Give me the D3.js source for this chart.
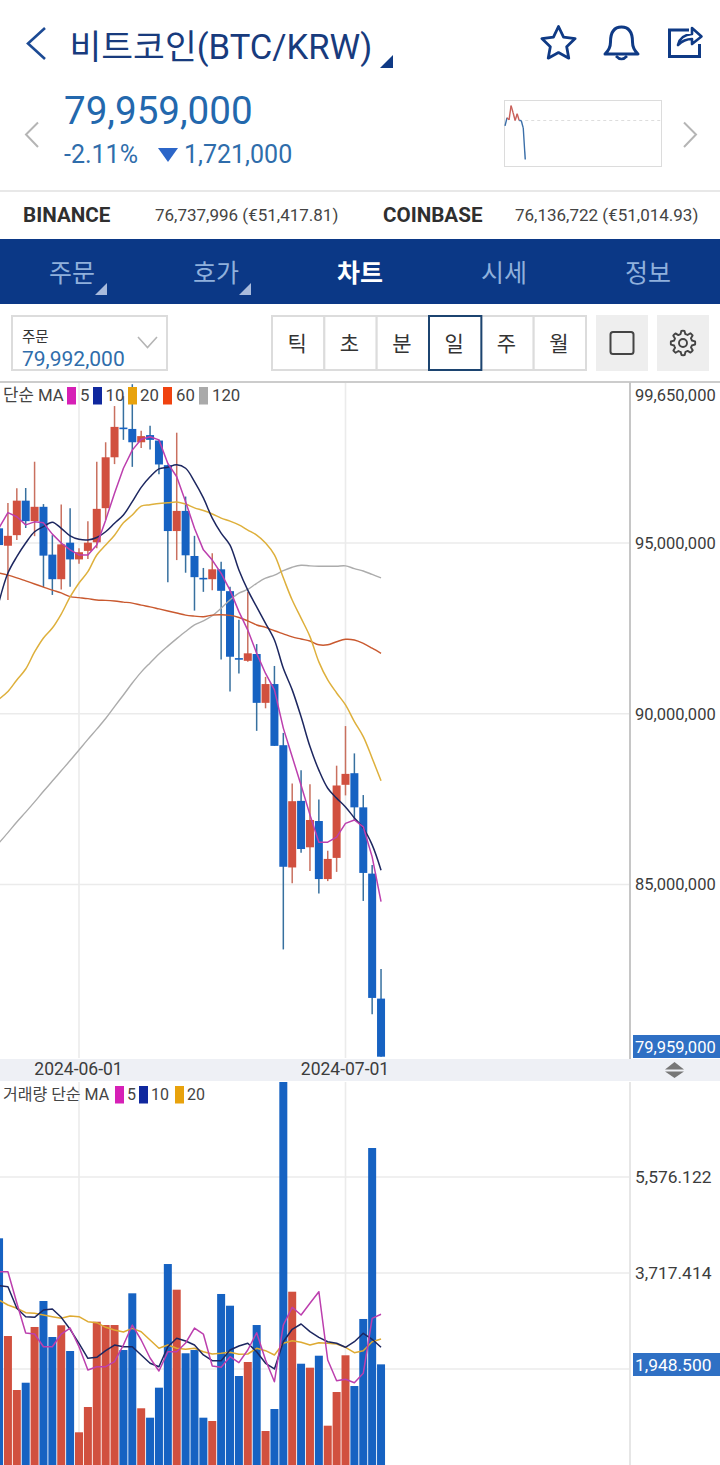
<!DOCTYPE html>
<html>
<head>
<meta charset="utf-8">
<script src="https://cdn.jsdelivr.net/npm/d3@7"></script>
<style>
  html, body { margin: 0; padding: 0; background: #fff; }
  svg { display: block; }
  text { font-family: Roboto, "Noto Sans CJK KR", sans-serif; }
</style>
</head>
<body>
<div id="chart"></div>
<script>
// daily candles, 2024-05-23 .. 2024-07-05, prices in million KRW
const opens = [95.43,94.92,95.23,96.24,95.64,96.06,94.66,93.94,95.01,94.52,94.77,95.02,96.02,97.51,98.38,98.34,97.95,98.16,98.00,97.28,95.35,95.94,94.62,93.98,93.94,94.23,93.59,91.63,91.55,91.75,90.32,90.87,89.08,85.50,87.45,86.09,86.86,85.16,85.78,87.92,88.26,87.26,85.32,81.66];
const closes = [94.94,95.21,96.24,95.64,96.06,94.63,93.94,94.96,94.52,94.73,95.01,96.00,97.51,98.40,98.36,97.95,98.13,98.02,97.30,95.35,95.94,94.64,94.00,93.96,94.23,93.60,91.67,91.61,91.77,90.32,90.87,89.06,85.52,87.44,86.04,86.89,85.16,85.75,87.90,88.24,87.26,85.34,81.68,79.959];
const highs = [95.97,96.17,96.60,96.61,97.38,96.14,95.23,96.13,96.02,94.85,95.64,97.38,97.95,99.01,99.30,99.65,98.29,98.43,98.02,97.30,98.23,96.36,95.21,94.27,94.70,94.45,93.72,92.75,93.57,92.04,91.08,91.40,89.44,87.96,88.35,87.94,87.49,85.99,88.48,89.64,88.84,87.62,85.57,82.53];
const lows = [94.50,93.33,95.09,95.44,95.20,93.71,93.48,93.64,93.72,94.39,94.53,94.85,95.67,97.31,98.02,97.23,97.78,97.74,97.01,93.85,94.50,94.13,93.02,93.57,93.62,91.59,90.65,91.18,91.52,89.50,90.16,89.06,83.10,85.04,85.93,85.40,84.74,85.10,85.37,87.61,86.89,84.52,81.20,79.959];

const ma5 = [95.44,95.89,95.77,95.53,95.62,95.59,95.26,95.00,94.80,94.65,94.65,94.94,95.67,96.46,97.19,97.72,98.04,98.11,98.02,97.33,96.94,96.21,95.43,94.80,94.50,94.11,93.62,92.99,92.45,91.77,91.18,90.70,89.58,88.74,87.91,87.04,86.24,86.24,86.39,86.79,86.89,86.69,85.81,84.50];
const ma10 = [93.28,94.12,94.60,95.00,95.33,95.48,95.61,95.43,95.21,95.11,95.09,95.16,95.33,95.58,95.82,96.21,96.63,96.94,97.17,97.22,97.29,97.19,96.80,96.32,95.73,95.29,94.94,94.21,93.62,93.13,92.65,92.16,91.33,90.70,89.91,89.04,88.35,87.82,87.53,87.27,86.95,86.65,86.16,85.42];
const ma20 = [90.43,90.65,90.99,91.31,91.81,92.22,92.51,92.92,93.42,93.83,94.16,94.65,94.94,95.23,95.59,95.82,96.08,96.12,96.16,96.18,96.20,96.14,96.03,95.95,95.85,95.73,95.64,95.53,95.38,95.23,95.00,94.65,93.98,93.33,92.80,92.26,91.52,90.99,90.61,90.26,89.77,89.33,88.70,88.04];
const ma60 = [94.12,94.06,93.98,93.89,93.80,93.71,93.62,93.54,93.43,93.40,93.37,93.33,93.32,93.30,93.27,93.24,93.18,93.13,93.07,93.01,92.95,92.89,92.86,92.84,92.89,92.90,92.88,92.82,92.72,92.60,92.53,92.43,92.34,92.25,92.19,92.13,92.02,92.02,92.11,92.18,92.16,92.06,91.92,91.77];
const ma120 = [86.22,86.52,86.83,87.12,87.42,87.73,88.03,88.33,88.63,88.94,89.25,89.55,89.86,90.21,90.55,90.90,91.22,91.49,91.75,91.98,92.20,92.41,92.60,92.72,92.87,93.09,93.33,93.53,93.64,93.82,93.97,94.06,94.19,94.29,94.35,94.33,94.32,94.32,94.32,94.33,94.25,94.18,94.08,93.98];

const volumes = [4389,2497,1452,1593,2672,3175,2478,2705,2207,633,1123,2774,2710,2710,2226,3324,1098,916,1497,3891,3394,2163,2226,916,852,3311,3084,1723,1994,2710,658,1084,7800,3355,1961,1884,2116,761,1413,2124,1529,2827,6137,1948.5];
const volMa5 = [3742,3742,3136,2556,2536,2290,2290,2536,2652,2290,1839,1903,1903,2000,2323,2710,2420,2072,1820,2193,2193,2362,2652,2536,1917,1891,2097,1981,2226,2561,2033,1613,2710,3053,2904,3131,3355,2033,1632,1659,1593,1775,2840,2918];
const volMa10 = [3471,3452,3034,2871,2859,3001,3020,2859,2627,2356,2066,2085,2213,2323,2290,2290,2130,1969,1903,2290,2453,2401,2323,2130,2019,2019,2226,2304,2356,2193,1969,1859,2387,2627,2730,2581,2472,2387,2356,2279,2387,2550,2434,2279];
const volMa20 = [3194,3098,3034,2949,2937,2904,2871,2840,2885,2871,2774,2755,2666,2614,2575,2646,2581,2420,2259,2323,2259,2240,2259,2193,2149,2163,2182,2143,2149,2259,2213,2130,2356,2406,2375,2323,2368,2356,2343,2279,2174,2213,2387,2439];

const priceTicks = [99.65, 95, 90, 85];
const volumeTicks = [5576.122, 3717.414];
const volumeGrid = [5576.122, 3717.414, 1858.707];
const dateTicks = ["2024-06-01", "2024-07-01"];
const lastPrice = 79.959;
const lastVolume = 1948.5;

// little sparkline in the header, change against the previous close
const miniChange = [-5.3,2.7,0.7,14.7,7.7,0,6.7,0,0,-7.3,-38.6];

const tabs = ["주문", "호가", "차트", "시세", "정보"];
const periods = ["틱", "초", "분", "일", "주", "월"];

const BLUE = "#1662c2", RED = "#d1503f", NAVY = "#0f3a85";

const dates = d3.utcDay.range(new Date(Date.UTC(2024, 4, 23)), new Date(Date.UTC(2024, 6, 6)));
const candles = dates.map((d, i) => ({date: d, open: opens[i], close: closes[i], high: highs[i], low: lows[i], volume: volumes[i]}));

const svg = d3.select("#chart").append("svg").attr("width", 720).attr("height", 1465).attr("viewBox", "0 0 720 1465");

function label(x, y, str, size, color, opts) {
  opts = opts || {};
  return svg.append("text").attr("x", x).attr("y", y).text(str)
    .attr("font-size", size).attr("fill", color)
    .attr("font-weight", opts.weight || 400)
    .attr("text-anchor", opts.anchor || "start");
}

// ---- header
svg.append("path").attr("d", "M45 28 L28 43.5 L45 59").attr("fill", "none").attr("stroke", "#1c4a94").attr("stroke-width", 2.6);
label(69.5, 59, "비트코인(BTC/KRW)", 34.6, "#183b7d");
svg.append("path").attr("d", "M380 68 H393 V55 Z").attr("fill", NAVY);

const star = d3.range(10).map(i => [i * Math.PI / 5, i % 2 ? 8.6 : 17.5]);
svg.append("path").attr("transform", "translate(558.5,44)")
  .attr("d", d3.lineRadial().curve(d3.curveLinearClosed)(star))
  .attr("fill", "none").attr("stroke", NAVY).attr("stroke-width", 2.8).attr("stroke-linejoin", "round");
svg.append("path").attr("d", "M605 54 Q610.5 49 610.5 42 Q610.5 27 621.5 27 Q632.5 27 632.5 42 Q632.5 49 638 54 Z")
  .attr("fill", "none").attr("stroke", NAVY).attr("stroke-width", 3).attr("stroke-linejoin", "round");
svg.append("path").attr("d", "M616 56 Q621.5 62 627 56").attr("fill", "none").attr("stroke", NAVY).attr("stroke-width", 2.6);
svg.append("path").attr("d", "M689 30 H669.5 V56.5 H699.5 V44").attr("fill", "none").attr("stroke", NAVY).attr("stroke-width", 3);
svg.append("path").attr("d", "M678 45 Q680 35 692 34 V28 L701.5 36.5 L692 44 V39 Q684 39 678 45 Z")
  .attr("fill", "none").attr("stroke", NAVY).attr("stroke-width", 2.6).attr("stroke-linejoin", "round");

svg.append("path").attr("d", "M38 122.5 L26 134.5 L38 147").attr("fill", "none").attr("stroke", "#b5b5b5").attr("stroke-width", 2);
svg.append("path").attr("d", "M684 122.5 L696 134.5 L684 147").attr("fill", "none").attr("stroke", "#b5b5b5").attr("stroke-width", 2);
label(64, 124, d3.format(",")(lastPrice * 1e6), 38.6, "#2368ad");
label(64, 163, "-2.11%", 25, "#2f6dab");
svg.append("path").attr("d", "M158 148 H178 L168 162 Z").attr("fill", "#2c66c8");
label(184, 163, "1,721,000", 25, "#2f6dab");

// sparkline
svg.append("rect").attr("x", 504.5).attr("y", 100.5).attr("width", 157).attr("height", 66)
  .attr("fill", "#fff").attr("stroke", "#dcdcdc");
const miniX = d3.scaleLinear().domain([0, 77]).range([505, 661]);
const miniY = d3.scaleLinear().domain([0, -38.6]).range([120.5, 159.5]);
svg.append("line").attr("x1", miniX(10)).attr("x2", 661).attr("y1", miniY(0)).attr("y2", miniY(0))
  .attr("stroke", "#ddd").attr("stroke-dasharray", "3,3");
d3.pairs(miniChange).forEach((p, i) => {
  svg.append("line").attr("x1", miniX(i)).attr("x2", miniX(i + 1)).attr("y1", miniY(p[0])).attr("y2", miniY(p[1]))
    .attr("stroke", (p[0] + p[1]) / 2 > 1 ? "#c9605a" : "#3a6ea8").attr("stroke-width", 1.4);
});

// exchange row
svg.append("rect").attr("x", 0).attr("y", 190).attr("width", 720).attr("height", 2).attr("fill", "#e8e8e8");
label(23, 222, "BINANCE", 20.6, "#2f2f2f", {weight: 700});
label(155, 221, "76,737,996 (€51,417.81)", 17, "#444");
label(383, 222, "COINBASE", 20.6, "#2f2f2f", {weight: 700});
label(515, 221, "76,136,722 (€51,014.93)", 17, "#444");

// ---- tab bar
svg.append("rect").attr("x", 0).attr("y", 239).attr("width", 720).attr("height", 65).attr("fill", "#0b3886");
tabs.forEach((t, i) => {
  const cx = 72 + i * 144;
  label(cx, 282, t, 25, i === 2 ? "#fff" : "#8fb0dc", {anchor: "middle", weight: i === 2 ? 700 : 400});
  if (i < 2) svg.append("path").attr("d", `M${cx + 23} 295 H${cx + 35} V283 Z`).attr("fill", "#a9bbdc");
});

// ---- toolbar
svg.append("rect").attr("x", 12).attr("y", 316).attr("width", 155).attr("height", 54)
  .attr("fill", "#fff").attr("stroke", "#dcdcdc").attr("stroke-width", 2);
label(22, 342, "주문", 14.5, "#333");
label(22, 366, "79,992,000", 21, "#2f6dab");
svg.append("path").attr("d", "M138 337 L147.5 347.5 L157 337").attr("fill", "none").attr("stroke", "#b5b5b5").attr("stroke-width", 1.6);

const periodX = d3.scaleBand().domain(periods).range([272, 586]);
periods.forEach(p => {
  svg.append("rect").attr("x", periodX(p)).attr("y", 316).attr("width", periodX.bandwidth()).attr("height", 54)
    .attr("fill", "#fff").attr("stroke", "#dcdcdc").attr("stroke-width", 2);
});
svg.append("rect").attr("x", periodX("일")).attr("y", 316).attr("width", periodX.bandwidth()).attr("height", 54)
  .attr("fill", "#fff").attr("stroke", "#1c4470").attr("stroke-width", 2);
periods.forEach(p => {
  label(periodX(p) + periodX.bandwidth() / 2 - 1, 351, p, 21, "#333", {anchor: "middle"});
});

svg.append("rect").attr("x", 596).attr("y", 315).attr("width", 52).attr("height", 56).attr("fill", "#eee");
svg.append("rect").attr("x", 610.5).attr("y", 332).attr("width", 23).attr("height", 22).attr("rx", 2.5)
  .attr("fill", "none").attr("stroke", "#444").attr("stroke-width", 2);
svg.append("rect").attr("x", 657).attr("y", 315).attr("width", 52).attr("height", 56).attr("fill", "#eee");
const gear = d3.range(48).map(i => [i * Math.PI / 24, (i % 6 < 3) ? 12.2 : 9.2]);
svg.append("path").attr("transform", "translate(683,343) rotate(-8)")
  .attr("d", d3.lineRadial().curve(d3.curveLinearClosed)(gear))
  .attr("fill", "none").attr("stroke", "#444").attr("stroke-width", 1.9).attr("stroke-linejoin", "round");
svg.append("circle").attr("cx", 683).attr("cy", 343).attr("r", 4).attr("fill", "none").attr("stroke", "#444").attr("stroke-width", 1.9);

// ---- scales
const x = d3.scaleUtc().domain([new Date(Date.UTC(2024, 5, 1)), new Date(Date.UTC(2024, 6, 1))]).range([79, 345.5]);
const y = d3.scaleLinear().domain([lastPrice, 99.65]).range([1056.7, 384.2]);
const yVol = d3.scaleLinear().domain([0, 7415]).range([1465, 1082]);

svg.append("defs").append("clipPath").attr("id", "clipPrice").append("rect").attr("x", 0).attr("y", 383).attr("width", 630).attr("height", 675);
svg.select("defs").append("clipPath").attr("id", "clipVol").append("rect").attr("x", 0).attr("y", 1082).attr("width", 630).attr("height", 383);

// ---- grid
const grid = svg.append("g").attr("stroke", "#ebebeb").attr("stroke-width", 1.6);
priceTicks.slice(1).forEach(v => {
  grid.append("line").attr("x1", 0).attr("x2", 630).attr("y1", y(v)).attr("y2", y(v));
});
volumeGrid.forEach(v => {
  grid.append("line").attr("x1", 0).attr("x2", 630).attr("y1", yVol(v)).attr("y2", yVol(v));
});
dateTicks.forEach(s => {
  const d = new Date(s);
  grid.append("line").attr("x1", x(d)).attr("x2", x(d)).attr("y1", 383).attr("y2", 1058);
  grid.append("line").attr("x1", x(d)).attr("x2", x(d)).attr("y1", 1082).attr("y2", 1465);
});

svg.append("rect").attr("x", 0).attr("y", 381).attr("width", 720).attr("height", 2).attr("fill", "#ccc");
svg.append("rect").attr("x", 629).attr("y", 382).attr("width", 2).attr("height", 677).attr("fill", "#c6c6c6");
svg.append("rect").attr("x", 629).attr("y", 1082).attr("width", 2).attr("height", 383).attr("fill", "#e6e6e6");

// ---- candles
const priceG = svg.append("g").attr("clip-path", "url(#clipPrice)");
const isUp = d => d.close > d.open;
const colorOf = d => isUp(d) ? RED : BLUE;

priceG.selectAll(".wick").data(candles).join("line").attr("class", "wick")
  .attr("x1", d => x(d.date)).attr("x2", d => x(d.date))
  .attr("y1", d => y(d.high)).attr("y2", d => y(d.low))
  .attr("stroke", d => isUp(d) ? "#c9705f" : "#37709f").attr("stroke-width", 1.5);

priceG.selectAll(".body").data(candles).join("rect").attr("class", "body")
  .attr("x", d => x(d.date) - 4)
  .attr("width", 8)
  .attr("y", d => y(Math.max(d.open, d.close)))
  .attr("height", d => Math.max(1.6, Math.abs(y(d.open) - y(d.close))))
  .attr("fill", colorOf);

function addLine(g, values, scale, color, width, curve) {
  const line = d3.line().x((v, i) => x(dates[i])).y(v => scale(v)).curve(curve || d3.curveLinear);
  g.append("path").attr("d", line(values)).attr("fill", "none")
    .attr("stroke", color).attr("stroke-width", width).attr("stroke-linejoin", "round");
}

addLine(priceG, ma120, y, "#acacac", 1.4, d3.curveCatmullRom);
addLine(priceG, ma60, y, "#c9592f", 1.4, d3.curveCatmullRom);
addLine(priceG, ma20, y, "#deb03c", 1.5, d3.curveCatmullRom);
addLine(priceG, ma10, y, "#1d2760", 1.5, d3.curveCatmullRom);
addLine(priceG, ma5, y, "#bc3fae", 1.5);

// ---- volume
const volG = svg.append("g").attr("clip-path", "url(#clipVol)");
volG.selectAll("rect").data(candles).join("rect")
  .attr("x", d => x(d.date) - 4)
  .attr("width", 8)
  .attr("y", d => yVol(d.volume))
  .attr("height", d => yVol(0) - yVol(d.volume))
  .attr("fill", colorOf);
addLine(volG, volMa20, yVol, "#deaa32", 1.5);
addLine(volG, volMa10, yVol, "#1d2760", 1.5);
addLine(volG, volMa5, yVol, "#bc3fae", 1.5);

// ---- axes
const yAxis = svg.append("g").attr("transform", "translate(635,0)")
  .call(d3.axisRight(y).tickValues(priceTicks).tickSize(0).tickPadding(0).tickFormat(v => d3.format(",")(Math.round(v * 1e6))));
yAxis.select(".domain").remove();
yAxis.selectAll("text").attr("font-size", 16.5).attr("fill", "#3c3c3c").attr("font-family", "Roboto");
yAxis.selectAll(".tick").filter(v => v === 99.65).select("text").attr("dy", "0.32em").attr("y", 11);

const volAxis = svg.append("g").attr("transform", "translate(635,0)")
  .call(d3.axisRight(yVol).tickValues(volumeTicks).tickSize(0).tickPadding(0).tickFormat(d3.format(",.3f")));
volAxis.select(".domain").remove();
volAxis.selectAll("text").attr("font-size", 17.4).attr("fill", "#3c3c3c").attr("font-family", "Roboto");

// date strip
svg.append("rect").attr("x", 0).attr("y", 1059).attr("width", 720).attr("height", 22).attr("fill", "#eef0f5");
const xAxis = svg.append("g").attr("transform", "translate(0,1062.5)")
  .call(d3.axisBottom(x).tickValues(dateTicks.map(s => new Date(s))).tickSize(0).tickPadding(0).tickFormat(d3.utcFormat("%Y-%m-%d")));
xAxis.select(".domain").remove();
xAxis.selectAll("text").attr("font-size", 17.5).attr("fill", "#3c3c3c").attr("font-family", "Roboto").attr("dx", -1);
svg.append("path").attr("d", "M665 1069.5 L674.5 1062 L684 1069.5 Z").attr("fill", "#777");
svg.append("path").attr("d", "M665 1071.5 L674.5 1078 L684 1071.5 Z").attr("fill", "#777");

// last value tags
svg.append("rect").attr("x", 633).attr("y", 1035).attr("width", 87).attr("height", 23).attr("fill", "#2f70c4");
label(635, 1053, d3.format(",")(lastPrice * 1e6), 16.5, "#fff");
svg.append("rect").attr("x", 633).attr("y", 1353).attr("width", 87).attr("height", 23).attr("fill", "#2f70c4");
label(635, 1370.5, d3.format(",.3f")(lastVolume), 17.4, "#fff");

// ---- legends
function legend(items, yText, ySwatch, size) {
  items.forEach(it => {
    if (it.color) svg.append("rect").attr("x", it.x).attr("y", ySwatch).attr("width", 9).attr("height", 17.5).attr("fill", it.color);
    label(it.tx, yText, it.t, size, "#444");
  });
}
legend([
  {t: "단순 MA", tx: 3},
  {t: "5", tx: 80, x: 67, color: "#d620b6"},
  {t: "10", tx: 105.5, x: 93, color: "#10289e"},
  {t: "20", tx: 140, x: 128, color: "#e8a20c"},
  {t: "60", tx: 176, x: 163, color: "#f0420f"},
  {t: "120", tx: 212, x: 199, color: "#aaa"}
], 401, 387, 16.8);
legend([
  {t: "거래량 단순 MA", tx: 3},
  {t: "5", tx: 127, x: 115, color: "#d620b6"},
  {t: "10", tx: 151, x: 139, color: "#10289e"},
  {t: "20", tx: 187, x: 175, color: "#e8a20c"}
], 1100, 1086, 16);
</script>
</body>
</html>
